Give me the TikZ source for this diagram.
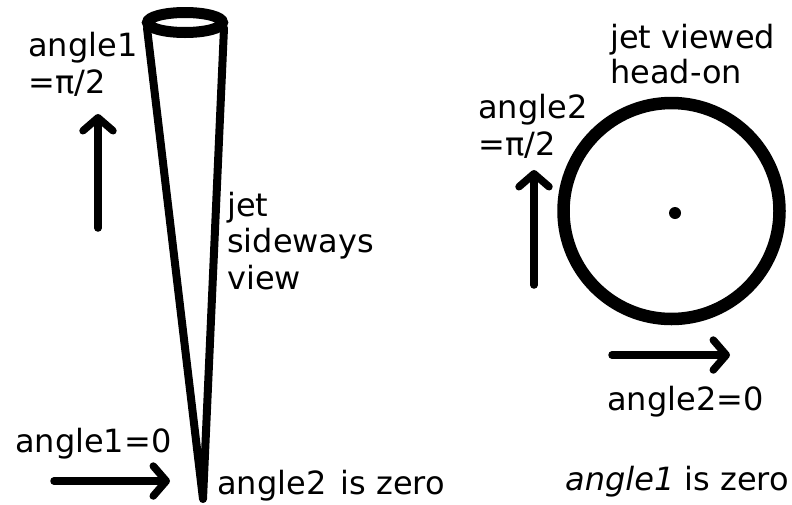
\documentclass[tikz,border=0pt]{standalone}
\usepackage{fontspec}
\setmainfont{DejaVu Sans}
\usetikzlibrary{arrows.meta}
\begin{document}
\begin{tikzpicture}[x=1pt,y=-1pt,
  lbl/.style={anchor=base west,inner sep=0pt,font=\fontsize{32}{37}\selectfont},
  thickarrow/.style={line width=7.5pt,line cap=round,-{Straight Barb[length=13pt,width=30pt,round]}},
  ink/.style={line width=8pt,line cap=round,line join=round}]
\useasboundingbox (0,0) rectangle (792,504);
% cone (sideways view)
\coordinate (tl) at (147,28);
\coordinate (tr) at (224,28);
\coordinate (apex) at (203,499);
\draw[ink] (tl) -- (apex) -- (tr);
\draw[line width=11pt] (185,22.5) ellipse [x radius=37.5, y radius=10];
% left arrows
\coordinate (a1s) at (98,228);
\coordinate (a1e) at (98,114);
\draw[thickarrow] (a1s) -- (a1e);
\coordinate (b1s) at (54,481);
\coordinate (b1e) at (170,481);
\draw[thickarrow] (b1s) -- (b1e);
% left texts
\node[lbl] (t1a) at (28,56) {angle1};
\node[lbl] (t1b) at (28,93) {=π/2};
\node[lbl] (j1) at (227,216) {jet};
\node[lbl] (j2) at (227,252) {sideways};
\node[lbl] (j3) at (227,289) {view};
\node[lbl] (t0) at (15,452) {angle1=0};
\node[lbl] (z2) at (217,494) {angle2\hspace{4pt} is zero};
% head-on view
\draw[line width=12.5pt] (671.5,211) circle [radius=108];
\fill (675,213) circle [radius=6];
\coordinate (a2s) at (534,285);
\coordinate (a2e) at (534,170);
\draw[thickarrow] (a2s) -- (a2e);
\coordinate (b2s) at (612,355);
\coordinate (b2e) at (730,355);
\draw[thickarrow] (b2s) -- (b2e);
\node[lbl] (h1) at (610,48) {jet viewed};
\node[lbl] (h2) at (610,83) {head-on};
\node[lbl] (t2a) at (478,118) {angle2};
\node[lbl] (t2b) at (478,155) {=π/2};
\node[lbl] (t20) at (607,410) {angle2=0};
\node[lbl] (z1) at (565,490) {\textit{angle1} is zero};
\end{tikzpicture}
\end{document}
